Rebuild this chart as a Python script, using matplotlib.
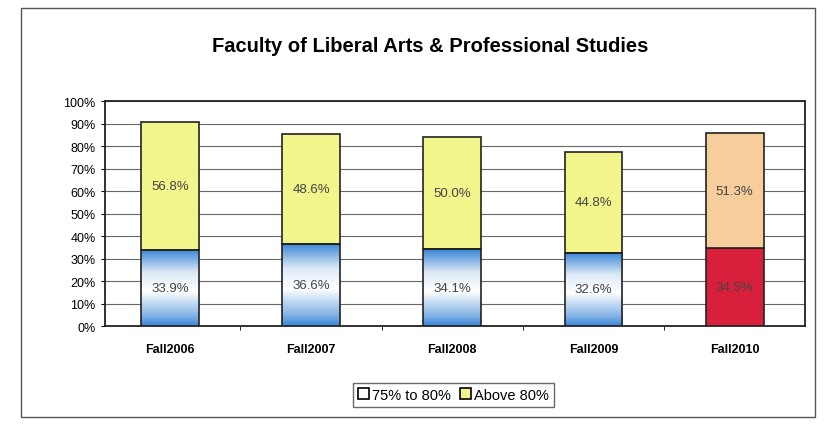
import matplotlib.pyplot as plt
import matplotlib.patches as mpatches
from matplotlib.colors import LinearSegmentedColormap
import numpy as np

plt.rcParams['font.family'] = ['Liberation Sans', 'DejaVu Sans']

years = ['Fall2006', 'Fall2007', 'Fall2008', 'Fall2009', 'Fall2010']
pct_75_80 = [33.9, 36.6, 34.1, 32.6, 34.5]
pct_above_80 = [56.8, 48.6, 50.0, 44.8, 51.3]
series_names = ['75% to 80%', 'Above 80%']

yellow = '#f1f58c'
peach = '#f8cd9c'
red = '#d81f3c'
blue_cmap = LinearSegmentedColormap.from_list(
    'bluefade', [(0.0, '#3a86d6'), (0.12, '#7fb0e6'), (0.45, '#ffffff'), (0.7, '#dde9f7'), (1.0, '#3a86d6')])

fig = plt.figure(figsize=(8.32, 4.27), dpi=100)
ax = fig.add_axes([0.126, 0.234, 0.842, 0.527])

# outer frame
fig.patches.append(mpatches.Rectangle((0.025, 0.02), 0.955, 0.96, transform=fig.transFigure,
                                      fill=False, edgecolor='#555555', lw=1.0))

x = np.arange(len(years))
w = 0.41
for i in x:
    lo = pct_75_80[i]
    hi = pct_above_80[i]
    if i == len(years) - 1:
        ax.bar(i, lo, w, color=red, edgecolor='#222222', lw=1.2, zorder=3)
        ax.bar(i, hi, w, bottom=lo, color=peach, edgecolor='#222222', lw=1.2, zorder=3)
    else:
        b = ax.bar(i, lo, w, color='none', edgecolor='#222222', lw=1.2, zorder=4)[0]
        grad = np.linspace(0, 1, 100).reshape(-1, 1)
        im = ax.imshow(grad, cmap=blue_cmap, aspect='auto', zorder=3,
                       extent=[i - w / 2, i + w / 2, lo, 0], interpolation='bilinear')
        im.set_clip_path(b)
        ax.bar(i, hi, w, bottom=lo, color=yellow, edgecolor='#222222', lw=1.2, zorder=3)
    ax.text(i, lo / 2, f'{lo:.1f}%', ha='center', va='center', fontsize=9.5, color='#444444', zorder=5)
    ax.text(i, lo + hi / 2, f'{hi:.1f}%', ha='center', va='center', fontsize=9.5, color='#444444', zorder=5)

ax.set_xlim(-0.46, 4.5)
ax.set_ylim(0, 100)
ax.set_yticks(np.arange(0, 101, 10))
ax.set_yticklabels([f'{v}%' for v in range(0, 101, 10)], fontsize=9)
ax.yaxis.grid(True, color='#666666', lw=0.8)
ax.set_axisbelow(True)
ax.set_xticks(x)
ax.set_xticklabels(years, fontsize=9, fontweight='bold')
ax.set_xticks(x[:-1] + 0.5, minor=True)
ax.tick_params(axis='x', which='major', length=0, pad=12)
ax.tick_params(axis='x', which='minor', length=3, direction='out')
ax.tick_params(axis='y', length=3)
for s in ax.spines.values():
    s.set_color('#222222')
    s.set_linewidth(1.3)

fig.text(0.517, 0.89, 'Faculty of Liberal Arts & Professional Studies',
         ha='center', va='center', fontsize=14.5, fontweight='bold')

handles = [mpatches.Patch(facecolor='white', edgecolor='black', lw=1.2),
           mpatches.Patch(facecolor=yellow, edgecolor='black', lw=1.2)]
fig.legend(handles, series_names, loc='center', bbox_to_anchor=(0.545, 0.073), ncol=2,
           fontsize=10.5, frameon=True, fancybox=False, edgecolor='#444444',
           handlelength=0.8, handleheight=0.8, handletextpad=0.2, columnspacing=0.6,
           borderpad=0.35)

fig.savefig('out.png', dpi=100)
